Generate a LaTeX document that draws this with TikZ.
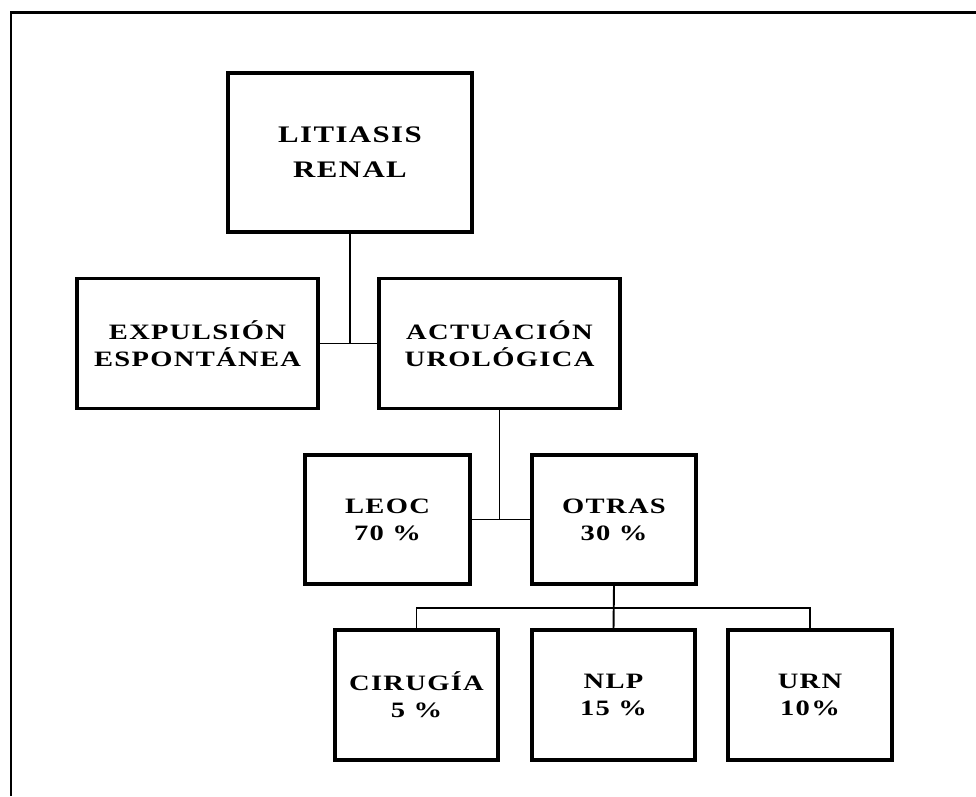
\documentclass[tikz,border=0pt]{standalone}
\usepackage{fontspec}
\setmainfont{Liberation Serif}
\newfontfamily\boxfont[FakeStretch=1.3,LetterSpace=6]{Liberation Serif}
\usetikzlibrary{positioning}

\begin{document}
\begin{tikzpicture}[x=0.02cm,y=-0.02cm]
  \tikzstyle{box}=[draw=black,line width=2pt,minimum width=3.28cm,minimum height=2.6cm,
    align=center,font=\boxfont\bfseries\fontsize{12.5pt}{15.5pt}\selectfont,inner sep=0pt]
  \tikzstyle{link}=[draw=black,line width=1.1pt]
  \useasboundingbox (0,0) rectangle (976,796);
  % open frame round the chart
  \draw[line width=1.7pt] (11,796) -- (11,12) -- (976,12);
  % top of the tree
  \node[box,minimum width=4.88cm,minimum height=3.18cm,
    font=\boxfont\bfseries\fontsize{13.5pt}{20pt}\selectfont] (litiasis) at (350,152.5) {LITIASIS\\RENAL};
  % second row
  \node[box,minimum width=4.82cm] (expulsion) at (197.5,343.5) {EXPULSIÓN\\ESPONTÁNEA};
  \node[box,minimum width=4.82cm] (actuacion) at (499.5,343.5) {ACTUACIÓN\\UROLÓGICA};
  % third row
  \node[box,minimum width=3.3cm,minimum height=2.58cm] (leoc) at (387.5,519.5) {LEOC\\70 \%};
  \node[box,minimum height=2.58cm] (otras) at (614,519.5) {OTRAS\\30 \%};
  % bottom row
  \node[box,minimum width=3.26cm] (cirugia) at (416.5,695) {CIRUGÍA\\5 \%};
  \node[box,minimum width=3.26cm] (nlp) at (613.5,695) {NLP\\15 \%};
  \node[box] (urn) at (810,695) {URN\\10\%};
  % connectors
  \draw[link] (expulsion.east) -- (actuacion.west);
  \draw[link] (litiasis.south) -- (litiasis.south |- expulsion.east);
  \draw[link] (leoc.east) -- (otras.west);
  \draw[link] (actuacion.south) -- (actuacion.south |- leoc.east);
  \coordinate (bus) at (613.5,608);
  \draw[link] (otras.south) -- (nlp.north);
  \draw[link] (cirugia.north) |- (bus) -| (urn.north);
\end{tikzpicture}
\end{document}
